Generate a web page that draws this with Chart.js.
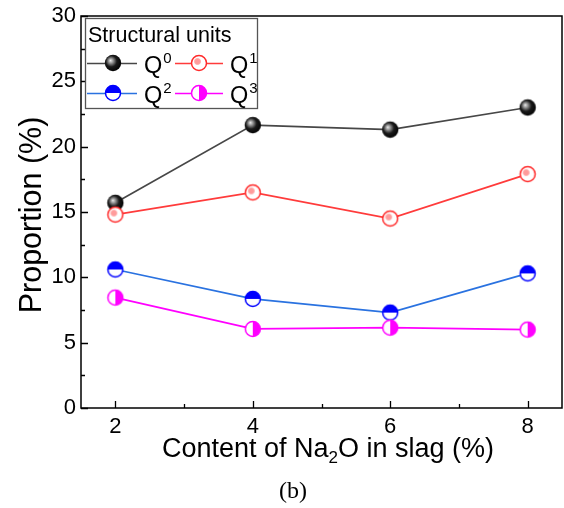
<!DOCTYPE html>
<html><head><meta charset="utf-8">
<script src="https://cdn.jsdelivr.net/npm/chart.js@4"></script>
<style>html,body{margin:0;padding:0;background:#fff}#wrap{width:564px;height:508px}</style>
</head><body><div id="wrap"><canvas id="c" width="564" height="508"></canvas></div>
<script>
const naContent = [2, 4, 6, 8];
const q0 = [15.7, 21.65, 21.3, 23.0];
const q1 = [14.8, 16.5, 14.5, 17.9];
const q2 = [10.6, 8.35, 7.3, 10.3];
const q3 = [8.45, 6.05, 6.15, 6.0];
const xTicks = [2, 4, 6, 8];
const yTicks = [0, 5, 10, 15, 20, 25, 30];
const seriesNames = ['0', '1', '2', '3'];

const SANS = '"Liberation Sans", Arial, sans-serif';
const SERIF = '"Liberation Serif", "Times New Roman", serif';

function mk(draw) {
  const c = document.createElement('canvas');
  c.width = 20; c.height = 20;
  draw(c.getContext('2d'), 10, 10);
  return c;
}
const sphere = mk((g, cx, cy) => {
  const gr = g.createRadialGradient(cx - 2.5, cy - 2.5, 0, cx - 1, cy - 1, 10);
  gr.addColorStop(0, '#eeeeee');
  gr.addColorStop(0.22, '#9a9a9a');
  gr.addColorStop(0.55, '#1a1a1a');
  gr.addColorStop(1, '#000');
  g.beginPath(); g.arc(cx, cy, 8.2, 0, Math.PI * 2); g.fillStyle = gr; g.fill();
});
const redCircle = mk((g, cx, cy) => {
  g.beginPath(); g.arc(cx, cy, 7.5, 0, Math.PI * 2); g.fillStyle = '#fff'; g.fill();
  g.lineWidth = 1.5; g.strokeStyle = '#ff2a2a'; g.stroke();
  g.beginPath(); g.arc(cx - 1.5, cy - 1.5, 3, 0, Math.PI * 2);
  g.fillStyle = 'rgba(255,130,130,0.8)'; g.fill();
  g.lineWidth = 1; g.strokeStyle = 'rgba(255,170,170,0.9)'; g.stroke();
});
const blueHalf = mk((g, cx, cy) => {
  g.beginPath(); g.arc(cx, cy, 7.5, 0, Math.PI * 2); g.fillStyle = '#fff'; g.fill();
  g.beginPath(); g.arc(cx, cy, 7.5, Math.PI, 0); g.closePath(); g.fillStyle = '#0000ff'; g.fill();
  g.beginPath(); g.arc(cx, cy, 7.5, 0, Math.PI * 2); g.lineWidth = 1.5; g.strokeStyle = '#0000ff'; g.stroke();
});
const magentaHalf = mk((g, cx, cy) => {
  g.beginPath(); g.arc(cx, cy, 7.5, 0, Math.PI * 2); g.fillStyle = '#fff'; g.fill();
  g.beginPath(); g.arc(cx, cy, 7.5, -Math.PI / 2, Math.PI / 2); g.closePath(); g.fillStyle = '#ff00ff'; g.fill();
  g.beginPath(); g.arc(cx, cy, 7.5, 0, Math.PI * 2); g.lineWidth = 1.5; g.strokeStyle = '#ff00ff'; g.stroke();
});

const lineColors = ['#474747', '#ff3b3b', '#2a72e0', '#ff00ff'];
const markers = [sphere, redCircle, blueHalf, magentaHalf];
const values = [q0, q1, q2, q3];

const datasets = values.map((v, i) => ({
  label: 'Q' + seriesNames[i],
  data: naContent.map((x, j) => ({x: x, y: v[j]})),
  borderColor: lineColors[i],
  borderWidth: 1.7,
  backgroundColor: lineColors[i],
  pointStyle: markers[i],
  pointRadius: 8,
  pointHoverRadius: 8,
  tension: 0,
  clip: false,
  order: 4 - i
}));

function supText(ctx, base, sup, x, y, size) {
  ctx.font = size + 'px ' + SANS;
  ctx.textAlign = 'left'; ctx.textBaseline = 'alphabetic';
  ctx.fillText(base, x, y);
  const w = ctx.measureText(base).width;
  ctx.font = Math.round(size * 0.62) + 'px ' + SANS;
  ctx.fillText(sup, x + w + 1, y - size * 0.42);
}

const decor = {
  id: 'decor',
  afterDraw(chart) {
    const ctx = chart.ctx;
    const a = chart.chartArea;
    const xs = chart.scales.x, ys = chart.scales.y;
    ctx.save();
    ctx.strokeStyle = '#000'; ctx.lineWidth = 1.5;
    ctx.strokeRect(a.left, a.top, a.right - a.left, a.bottom - a.top);
    ctx.lineWidth = 1.3;
    ctx.beginPath();
    for (let v = 2; v <= 8; v += 1) {
      const px = Math.round(xs.getPixelForValue(v)) + 0.5;
      const len = (v % 2 === 0) ? 7 : 4;
      ctx.moveTo(px, a.bottom); ctx.lineTo(px, a.bottom - len);
    }
    for (let v = 0; v <= 30; v += 2.5) {
      const py = Math.round(ys.getPixelForValue(v)) + 0.5;
      const len = (v % 5 === 0) ? 7 : 4;
      ctx.moveTo(a.left, py); ctx.lineTo(a.left + len, py);
    }
    ctx.stroke();

    // y title
    ctx.fillStyle = '#000';
    ctx.save();
    ctx.translate(41, (a.top + a.bottom) / 2 + 3);
    ctx.rotate(-Math.PI / 2);
    ctx.font = '30.5px ' + SANS;
    ctx.textAlign = 'center'; ctx.textBaseline = 'alphabetic';
    ctx.fillText('Proportion (%)', 0, 0);
    ctx.restore();

    // x title with subscript
    const fs = 27, fsub = 17;
    ctx.textBaseline = 'alphabetic'; ctx.textAlign = 'left';
    const p1 = 'Content of Na', p2 = '2', p3 = 'O in slag (%)';
    ctx.font = fs + 'px ' + SANS; const w1 = ctx.measureText(p1).width, w3 = ctx.measureText(p3).width;
    ctx.font = fsub + 'px ' + SANS; const w2 = ctx.measureText(p2).width;
    const total = w1 + w2 + w3;
    let x0 = 328 - total / 2; const yb = 457;
    ctx.font = fs + 'px ' + SANS; ctx.fillText(p1, x0, yb);
    ctx.font = fsub + 'px ' + SANS; ctx.fillText(p2, x0 + w1, yb + 6);
    ctx.font = fs + 'px ' + SANS; ctx.fillText(p3, x0 + w1 + w2, yb);

    // (b)
    ctx.font = '24px ' + SERIF; ctx.textAlign = 'center';
    ctx.fillText('(b)', 293, 498);

    // legend
    ctx.fillStyle = '#fff';
    ctx.fillRect(85, 18, 173, 91);
    ctx.strokeStyle = '#555'; ctx.lineWidth = 1.3;
    ctx.strokeRect(85.5, 18.5, 172, 90);
    ctx.fillStyle = '#000';
    ctx.font = '21.5px ' + SANS; ctx.textAlign = 'left';
    ctx.fillText('Structural units', 88, 42);
    const rows = [63, 93];
    const cols = [{l: 87, r: 137, m: 113, t: 144}, {l: 175, r: 223, m: 199, t: 230}];
    for (let i = 0; i < 4; i++) {
      const r = rows[Math.floor(i / 2)], c = cols[i % 2];
      ctx.strokeStyle = lineColors[i]; ctx.lineWidth = 1.7;
      ctx.beginPath(); ctx.moveTo(c.l, r + 0.5); ctx.lineTo(c.r, r + 0.5); ctx.stroke();
      ctx.drawImage(markers[i], c.m - 10, r - 10);
      ctx.fillStyle = '#000';
      supText(ctx, 'Q', seriesNames[i], c.t, r + 10, 23.5);
    }
    ctx.restore();
  }
};

new Chart(document.getElementById('c'), {
  type: 'line',
  data: {datasets: datasets},
  options: {
    responsive: false,
    animation: false,
    events: [],
    layout: {autoPadding: false, padding: {top: 16, right: 2, left: 0, bottom: 0}},
    plugins: {legend: {display: false}, tooltip: {enabled: false}},
    scales: {
      x: {
        type: 'linear', min: 1.5, max: 8.5,
        afterBuildTicks: s => { s.ticks = xTicks.map(v => ({value: v})); },
        afterFit: s => { s.height = 100; s.paddingRight = 0; s.paddingLeft = 0; },
        grid: {display: false, drawTicks: false},
        border: {display: false},
        ticks: {padding: 6, color: '#000', font: {family: SANS, size: 22}, maxRotation: 0}
      },
      y: {
        type: 'linear', min: 0, max: 30,
        afterBuildTicks: s => { s.ticks = yTicks.map(v => ({value: v})); },
        afterFit: s => { s.width = 81; s.paddingTop = 0; s.paddingBottom = 0; },
        grid: {display: false, drawTicks: false},
        border: {display: false},
        ticks: {padding: 5, color: '#000', font: {family: SANS, size: 22}}
      }
    }
  },
  plugins: [decor]
});
</script></body></html>
